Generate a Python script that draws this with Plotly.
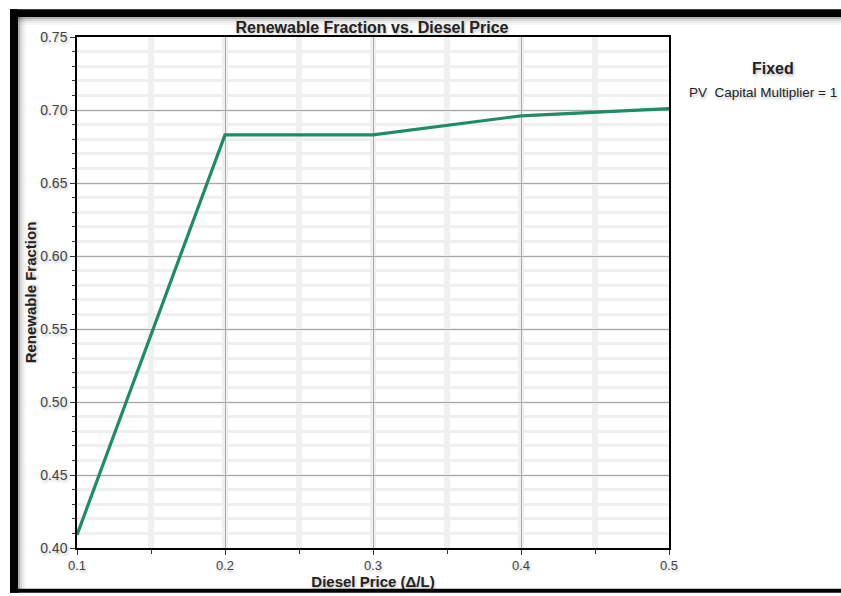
import plotly.graph_objects as go

diesel_price = [0.1, 0.2, 0.3, 0.4, 0.5]
renewable_fraction = [0.409, 0.683, 0.683, 0.696, 0.701]
x_ticks = [0.1, 0.2, 0.3, 0.4, 0.5]
y_ticks = [0.40, 0.45, 0.50, 0.55, 0.60, 0.65, 0.70, 0.75]

# body margin is removed in the page (post_script), so figure sits at (0, 0)
W, H = 841, 596
PL, PR, PT, PB = 77, 669, 37, 551  # plot area in page pixels
L, T = PL, PT
R = W - PR
B = H - PB
pw, ph = PR - PL, PB - PT

def px(x):
    return (x - PL) / pw

def py(y):
    return (PB - y) / ph

fig = go.Figure()
fig.add_trace(go.Scatter(
    x=diesel_price, y=renewable_fraction, mode="lines",
    line=dict(color="#1e8c68", width=3.2), showlegend=False,
))

font_fam = "Liberation Sans, Arial, sans-serif"
shadow = "1px 2px 3px rgba(0,0,0,0.25)"

fig.update_layout(
    width=W, height=H,
    margin=dict(l=L, r=R, t=T, b=B),
    paper_bgcolor="white", plot_bgcolor="white",
    font=dict(family=font_fam, color="#444444", size=14),
    title=dict(text="<b>Renewable Fraction vs. Diesel Price</b>", x=372 / W, xanchor="center",
               y=1 - 27 / H, yanchor="middle",
               font=dict(size=16, color="#222222", shadow=shadow)),
    xaxis=dict(
        range=[0.1, 0.5], tickvals=x_ticks, ticktext=[f"{v:.1f}" for v in x_ticks],
        tickfont=dict(size=13, color="#444444", shadow=shadow),
        showgrid=True, gridcolor="#a8a8a8", gridwidth=1,
        showline=True, linecolor="black", linewidth=1.5, mirror=True,
        ticks="outside", ticklen=5, tickcolor="#333333",
        minor=dict(dtick=0.05, showgrid=True, gridcolor="#f0f0f0", gridwidth=6,
                   ticks="outside", ticklen=4, tickcolor="#333333"),
        zeroline=False,
        title=dict(text="<b>Diesel Price (Δ/L)</b>", font=dict(size=15, color="#222222", shadow=shadow),
                   standoff=0),
    ),
    yaxis=dict(
        range=[0.40, 0.75], tickvals=y_ticks, ticktext=[f"{v:.2f}" for v in y_ticks],
        tickfont=dict(size=14, color="#444444", shadow=shadow),
        showgrid=True, gridcolor="#a8a8a8", gridwidth=1,
        showline=True, linecolor="black", linewidth=1.5, mirror=True,
        ticks="outside", ticklen=5, tickcolor="#333333",
        minor=dict(dtick=0.01, showgrid=True, gridcolor="#efefef", gridwidth=3,
                   ticks="outside", ticklen=3, tickcolor="#333333"),
        zeroline=False,
        title=dict(text="<b>Renewable Fraction</b>", font=dict(size=15, color="#222222", shadow=shadow),
                   standoff=0),
    ),
)

# frame around the picture
shapes = [
    dict(type="rect", xref="paper", yref="paper", x0=px(10), x1=px(18), y0=py(596), y1=py(9),
         fillcolor="black", line=dict(width=0), layer="above"),
    dict(type="rect", xref="paper", yref="paper", x0=px(10), x1=px(841), y0=py(17), y1=py(9),
         fillcolor="black", line=dict(width=0), layer="above"),
    dict(type="rect", xref="paper", yref="paper", x0=px(10), x1=px(841), y0=py(596), y1=py(592),
         fillcolor="black", line=dict(width=0), layer="above"),
]
# soft shadows
for i, a in enumerate([0.3, 0.16, 0.08, 0.04]):
    shapes.append(dict(type="rect", xref="paper", yref="paper", x0=px(18), x1=px(841),
                       y0=py(17 + 2 * (i + 1)), y1=py(17 + 2 * i),
                       fillcolor=f"rgba(0,0,0,{a})", line=dict(width=0), layer="below"))
    shapes.append(dict(type="rect", xref="paper", yref="paper", x0=px(18 + 2 * i), x1=px(18 + 2 * (i + 1)),
                       y0=py(592), y1=py(17),
                       fillcolor=f"rgba(0,0,0,{a})", line=dict(width=0), layer="below"))
fig.update_layout(shapes=shapes)

fig.add_annotation(xref="paper", yref="paper", x=px(773), y=py(69), text="<b>Fixed</b>",
                   showarrow=False, font=dict(size=16, color="#222222", shadow=shadow),
                   xanchor="center", yanchor="middle")
fig.add_annotation(xref="paper", yref="paper", x=px(763), y=py(93), text="PV  Capital Multiplier = 1",
                   showarrow=False, font=dict(size=13.5, color="#222222", shadow=shadow),
                   xanchor="center", yanchor="middle")

fig.write_html("out.html", config={"displayModeBar": False},
               post_script="document.body.style.margin='0';document.body.style.overflow='hidden';")
